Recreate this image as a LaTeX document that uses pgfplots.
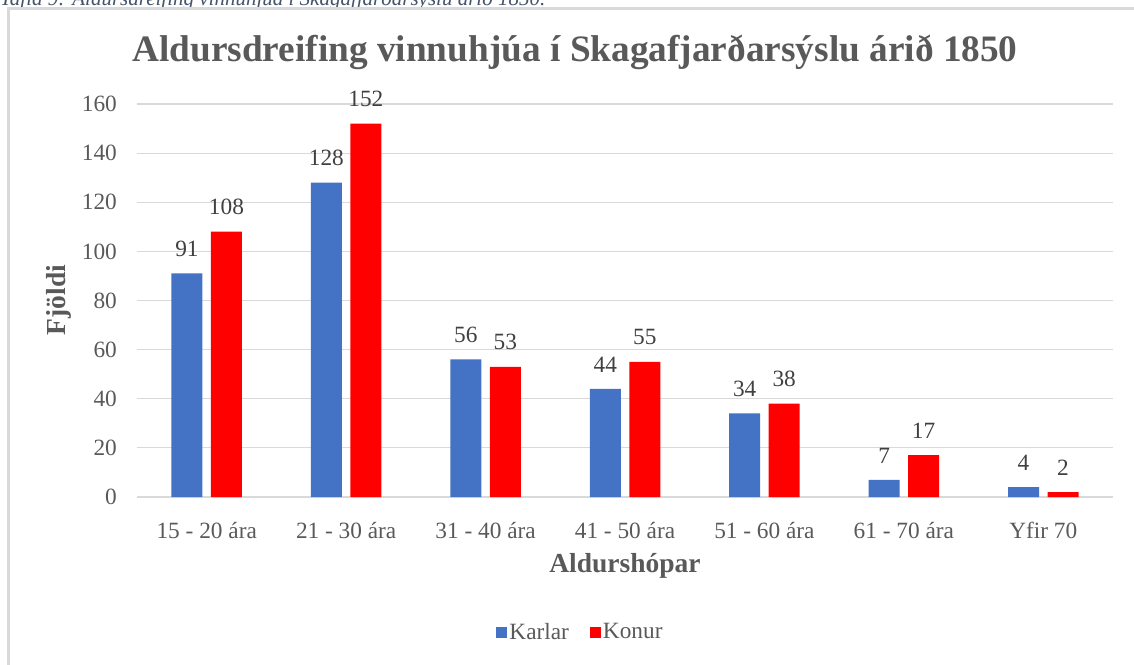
\documentclass[border=0pt]{standalone}
\usepackage{fontspec}
\setmainfont{Liberation Serif}
\usepackage{pgfplots}
\pgfplotsset{compat=1.18}
\definecolor{karlblue}{HTML}{4472C4}
\definecolor{konured}{HTML}{FF0000}
\definecolor{txtgray}{HTML}{595959}
\definecolor{lblgray}{HTML}{404040}
\definecolor{gridgray}{HTML}{D9D9D9}
\definecolor{capblue}{HTML}{44546A}
\newcommand\tk{\fontsize{23.3pt}{28pt}\selectfont}

\begin{document}
\begin{tikzpicture}
\useasboundingbox (0,0) rectangle (1134pt,664pt);
% caption above the chart frame, cut by the page edge
\node[anchor=base west,inner sep=0pt,text=capblue,font=\fontsize{21pt}{25pt}\selectfont\itshape]
 at (0pt,658pt) {Tafla 9: Aldursdreifing vinnuhjúa í Skagafjarðarsýslu árið 1850.};
\draw[gridgray,line width=2.5pt] (8.7pt,-10pt)--(8.7pt,655.7pt)--(1150pt,655.7pt);
\begin{axis}[at={(137pt,167pt)},anchor=south west,scale only axis,
 width=976pt,height=393pt,ybar=8.5pt,bar width=31pt,
 xmin=-0.5,xmax=6.5,ymin=0,ymax=160,enlargelimits=false,
 xtick={0,...,6},
 xticklabels={15 - 20 ára,21 - 30 ára,31 - 40 ára,41 - 50 ára,51 - 60 ára,61 - 70 ára,Yfir 70},
 ytick={0,20,...,160},
 axis line style={draw=none},tick style={draw=none},
 ymajorgrids=true,grid style={gridgray,line width=1.2pt},
 ticklabel style={font=\tk,text=txtgray},
 /pgf/number format/assume math mode=true,
 xticklabel style={anchor=base,inner sep=0pt,yshift=-37pt},
 yticklabel style={anchor=east,inner sep=0pt,xshift=-20pt},
 nodes near coords,
 every node near coord/.append style={font=\tk,text=lblgray,inner sep=0pt,yshift=16.5pt},
 legend columns=2,
 legend style={at={(0.4544,-0.3435)},anchor=center,draw=none,fill=none,font=\tk,text=txtgray,
  /tikz/every even column/.append style={column sep=19pt}},
 legend image code/.code={\fill[#1] (-5pt,-5.5pt) rectangle (6pt,5.5pt);}]
\addplot[fill=karlblue,draw=none] coordinates {(0,91)(1,128)(2,56)(3,44)(4,34)(5,7)(6,4)};
\addlegendentry{Karlar}
\addplot[fill=konured,draw=none] coordinates {(0,108)(1,152)(2,53)(3,55)(4,38)(5,17)(6,2)};
\addlegendentry{Konur}
\end{axis}
\node[anchor=base,text=txtgray,font=\fontsize{37.3pt}{44pt}\selectfont\bfseries]
 at (575pt,602pt) {Aldursdreifing vinnuhjúa í Skagafjarðarsýslu árið 1850};
\node[rotate=90,anchor=center,text=txtgray,font=\fontsize{27.5pt}{33pt}\selectfont\bfseries]
 at (59pt,364pt) {Fjöldi};
\node[anchor=base,text=txtgray,font=\fontsize{27.5pt}{33pt}\selectfont\bfseries]
 at (625pt,92pt) {Aldurshópar};
\end{tikzpicture}
\end{document}
